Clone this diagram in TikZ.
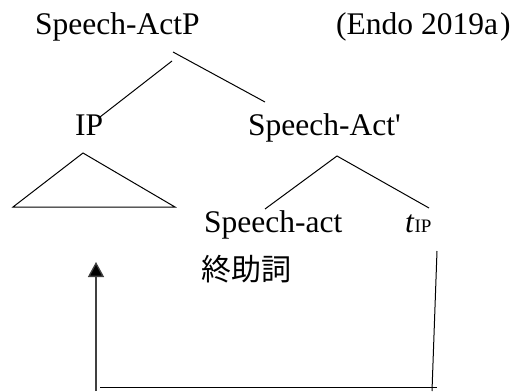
\documentclass[tikz,border=0pt]{standalone}
\usepackage{fontspec}
\setmainfont{Liberation Serif}
\newfontfamily\cjk{Noto Sans CJK JP}
\usetikzlibrary{arrows.meta}
\begin{document}
\begin{tikzpicture}[x=1pt,y=-1pt,
  lbl/.style={inner sep=0pt,anchor=base west,font=\fontsize{31.5}{36}\selectfont},
  branch/.style={line width=1pt},
  mover/.style={line width=1.3pt,draw=black!75}]
\useasboundingbox (0,0) rectangle (522,391);
% labels
\node[lbl] (sap) at (35,34) {Speech-ActP};
\node[lbl] (ref) at (336,34) {(Endo 2019a\hspace{2pt})};
\node[lbl] (ip) at (75,135) {IP};
\node[lbl] (sabar) at (248,135) {Speech-Act\textquotesingle};
\node[lbl] (sa) at (204,232) {Speech-act};
\node[lbl] (tip) at (405,232) {\textit{t}{\fontsize{19}{21}\selectfont IP}};
\node[lbl,anchor=south west,font=\cjk\fontsize{30}{34}\selectfont] (sfp) at (201,283) {終助詞};
% branch points
\coordinate (a1) at (172,61);
\coordinate (a2) at (100,117);
\coordinate (b1) at (173,52);
\coordinate (b2) at (265,102);
\coordinate (tl) at (13,207);
\coordinate (tt) at (83,153);
\coordinate (tr) at (175,207);
\coordinate (c0) at (337,156);
\coordinate (c1) at (265,209);
\coordinate (c2) at (429,208);
% movement path
\coordinate (m0) at (96,391);
\coordinate (m1) at (96,262);
\coordinate (h0) at (100,387);
\coordinate (h1) at (437,387);
\coordinate (v0) at (437,251);
\coordinate (v1) at (432,391);
\draw[branch] (a1) -- (a2);
\draw[branch] (b1) -- (b2);
\draw[branch] (tt) -- (tl) -- (tr) -- cycle;
\draw[branch] (c1) -- (c0) -- (c2);
\draw[mover,-{Triangle[width=16pt,length=15pt,fill=black]}] (m0) -- (m1);
\draw[branch] (h0) -- (h1);
\draw[branch] (v0) -- (v1);
\end{tikzpicture}
\end{document}
